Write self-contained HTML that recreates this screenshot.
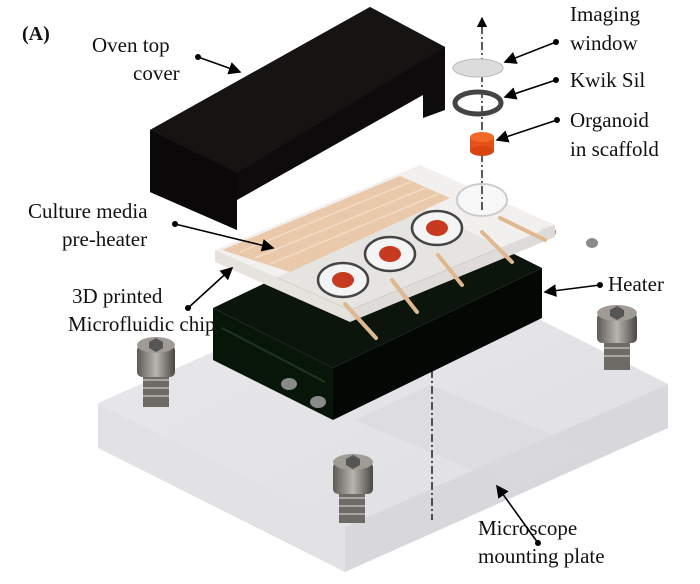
<!DOCTYPE html>
<html><head><meta charset="utf-8"><style>
html,body{margin:0;padding:0;background:#fff;}
svg{display:block;}
text{font-family:"Liberation Serif",serif;font-size:21px;fill:#111;}
</style></head><body>
<svg width="700" height="584" viewBox="0 0 700 584" xmlns="http://www.w3.org/2000/svg">
<defs>
<linearGradient id="pl" x1="0" y1="0" x2="1" y2="1">
<stop offset="0" stop-color="#e9e9ec"/><stop offset="1" stop-color="#dfdfe3"/></linearGradient>
<linearGradient id="scr" x1="0" x2="1"><stop offset="0" stop-color="#5e5a56"/><stop offset="0.5" stop-color="#b8b4ae"/><stop offset="1" stop-color="#4a4744"/></linearGradient>
<marker id="ah" markerWidth="8" markerHeight="8" refX="7" refY="4" orient="auto"><path d="M0,0 L8,4 L0,8 z" fill="#000"/></marker>
</defs>
<!-- mounting plate -->
<polygon points="98,403 421,260 668,384 345,527" fill="url(#pl)"/>
<polygon points="98,403 345,527 345,572 98,448" fill="#e2e2e5"/>
<polygon points="345,527 668,384 668,428 345,572" fill="#d8d8dc"/>
<polygon points="355,420 430,385 590,450 515,488" fill="#d9d9dd" opacity="0.6"/>
<!-- heater -->
<polygon points="213,308 422,208 542,268 333,368" fill="#0b150b"/>
<polygon points="213,308 333,368 333,420 213,360" fill="#08160a"/>
<polygon points="333,368 542,268 542,318 333,420" fill="#040804"/>
<line x1="222" y1="328" x2="325" y2="382" stroke="#1d361d" stroke-width="2"/>
<!-- heater screws -->
<g fill="#8a8a8a"><ellipse cx="289" cy="384" rx="8" ry="6"/><ellipse cx="318" cy="402" rx="8" ry="6"/><ellipse cx="548" cy="232" rx="8" ry="6"/><ellipse cx="592" cy="243" rx="6" ry="5"/></g>
<!-- chip -->
<polygon points="215,250 420,165 555,225 350,310" fill="#f1efed" opacity="0.95"/>
<polygon points="215,250 350,310 350,322 215,262" fill="#e6e2de"/>
<polygon points="350,310 555,225 555,237 350,322" fill="#dedbd8"/>
<polygon points="222,250 400,176 450,198 290,272" fill="#e9c9a9"/>
<g stroke="#f3dcc6" stroke-width="1.5"><line x1="240" y1="252" x2="410" y2="182"/><line x1="255" y1="258" x2="425" y2="188"/><line x1="270" y1="264" x2="438" y2="194"/></g>
<g stroke="#e0b890" stroke-width="4" stroke-linecap="round">
<line x1="345" y1="304" x2="376" y2="338"/><line x1="392" y1="280" x2="417" y2="312"/><line x1="438" y1="255" x2="462" y2="285"/><line x1="482" y1="232" x2="512" y2="262"/><line x1="500" y1="218" x2="545" y2="240"/></g>
<g>
<ellipse cx="343" cy="280" rx="25" ry="17" fill="#f4f4f4" stroke="#444" stroke-width="2.5"/><ellipse cx="343" cy="280" rx="11" ry="8" fill="#c83a20"/>
<ellipse cx="390" cy="254" rx="25" ry="17" fill="#f4f4f4" stroke="#444" stroke-width="2.5"/><ellipse cx="390" cy="254" rx="11" ry="8" fill="#c83a20"/>
<ellipse cx="437" cy="228" rx="25" ry="17" fill="#f4f4f4" stroke="#444" stroke-width="2.5"/><ellipse cx="437" cy="228" rx="11" ry="8" fill="#c83a20"/>
<ellipse cx="482" cy="200" rx="25" ry="16" fill="#f8f8f8" stroke="#ccc" stroke-width="2"/>
</g>
<!-- oven cover -->
<polygon points="150,130 370,7 445,47 445,110 423,118 423,95 237,200 237,230 150,192" fill="#0d0b0b"/>
<polygon points="150,130 370,7 445,47 237,173" fill="#161313"/>
<polygon points="150,130 237,173 237,230 150,192" fill="#0a0808"/>
<!-- plate screws -->
<g>
<rect x="143" y="365" width="26" height="42" fill="#6e6a66"/>
<g stroke="#a8a49f" stroke-width="2"><line x1="143" y1="372" x2="169" y2="372"/><line x1="143" y1="380" x2="169" y2="380"/><line x1="143" y1="388" x2="169" y2="388"/><line x1="143" y1="396" x2="169" y2="396"/></g>
<rect x="137" y="345" width="38" height="32" rx="5" fill="url(#scr)"/><ellipse cx="156" cy="345" rx="19" ry="8" fill="#a09b95"/><polygon points="149,342 156,338 163,342 163,348 156,352 149,348" fill="#555"/>
<rect x="339" y="478" width="26" height="45" fill="#6e6a66"/>
<g stroke="#a8a49f" stroke-width="2"><line x1="339" y1="490" x2="365" y2="490"/><line x1="339" y1="498" x2="365" y2="498"/><line x1="339" y1="506" x2="365" y2="506"/><line x1="339" y1="514" x2="365" y2="514"/></g>
<rect x="333" y="462" width="40" height="32" rx="5" fill="url(#scr)"/><ellipse cx="353" cy="462" rx="20" ry="8" fill="#a09b95"/><polygon points="346,459 353,455 360,459 360,465 353,469 346,465" fill="#555"/>
<rect x="604" y="330" width="26" height="40" fill="#6e6a66"/>
<g stroke="#a8a49f" stroke-width="2"><line x1="604" y1="340" x2="630" y2="340"/><line x1="604" y1="348" x2="630" y2="348"/><line x1="604" y1="356" x2="630" y2="356"/></g>
<rect x="597" y="313" width="40" height="30" rx="5" fill="url(#scr)"/><ellipse cx="617" cy="313" rx="20" ry="8" fill="#a09b95"/><polygon points="610,310 617,306 624,310 624,316 617,320 610,316" fill="#555"/>
</g>
<!-- right parts -->
<line x1="482" y1="210" x2="482" y2="18" stroke="#000" stroke-width="1.3" stroke-dasharray="8,3,2,3" marker-end="url(#ah)"/>
<line x1="432" y1="370" x2="432" y2="520" stroke="#000" stroke-width="1.3" stroke-dasharray="8,3,2,3"/>
<ellipse cx="478" cy="68" rx="25" ry="9" fill="#dcdcdc" stroke="#bbb"/>
<ellipse cx="478" cy="103" rx="23" ry="11" fill="none" stroke="#444" stroke-width="5"/>
<rect x="470" y="137" width="24" height="14" fill="#e8501a"/><ellipse cx="482" cy="137" rx="12" ry="5" fill="#f26a2a"/><ellipse cx="482" cy="151" rx="12" ry="5" fill="#d84510"/>
<!-- labels -->
<text x="22" y="40" style="font-weight:bold;font-size:20px">(A)</text>
<text x="92" y="52">Oven top</text><text x="133" y="80">cover</text>
<text x="570" y="21">Imaging</text><text x="570" y="50">window</text>
<text x="570" y="87">Kwik Sil</text>
<text x="570" y="127">Organoid</text><text x="570" y="156">in scaffold</text>
<text x="28" y="218">Culture media</text><text x="62" y="246">pre-heater</text>
<text x="72" y="303">3D printed</text><text x="68" y="331">Microfluidic chip</text>
<text x="608" y="291">Heater</text>
<text x="478" y="535">Microscope</text><text x="478" y="563">mounting plate</text>
<!-- leader lines -->
<g stroke="#000" stroke-width="1.6" fill="none">
<line x1="198" y1="57" x2="240" y2="72" marker-end="url(#ah)"/>
<line x1="556" y1="42" x2="505" y2="62" marker-end="url(#ah)"/>
<line x1="556" y1="80" x2="505" y2="97" marker-end="url(#ah)"/>
<line x1="557" y1="120" x2="497" y2="140" marker-end="url(#ah)"/>
<line x1="175" y1="224" x2="273" y2="248" marker-end="url(#ah)"/>
<line x1="188" y1="308" x2="232" y2="268" marker-end="url(#ah)"/>
<line x1="600" y1="285" x2="545" y2="292" marker-end="url(#ah)"/>
<line x1="538" y1="543" x2="497" y2="486" marker-end="url(#ah)"/>
</g>
<g fill="#000"><circle cx="198" cy="57" r="3"/><circle cx="556" cy="42" r="3"/><circle cx="556" cy="80" r="3"/><circle cx="557" cy="120" r="3"/><circle cx="175" cy="224" r="3"/><circle cx="188" cy="308" r="3"/><circle cx="600" cy="285" r="3"/><circle cx="538" cy="543" r="3"/></g>
</svg>
</body></html>
